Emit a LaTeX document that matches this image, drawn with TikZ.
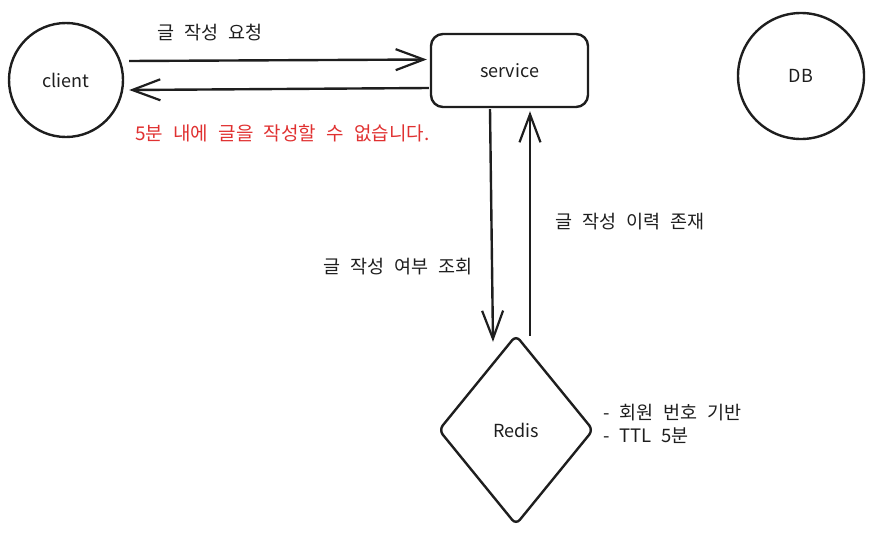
\documentclass[tikz,border=0pt]{standalone}
\usepackage{fontspec}
\setmainfont{Noto Sans CJK KR}[WordSpace=2.4]
\usetikzlibrary{shapes.geometric,arrows.meta}
\definecolor{ink}{HTML}{1E1E1E}
\definecolor{exred}{HTML}{E03131}
\tikzset{
  shp/.style={draw=ink, line width=2.4pt, text=ink, font=\fontsize{18}{20}\selectfont},
  arr/.style={draw=ink, line width=2.4pt, -{Straight Barb[length=28pt,width=21pt,line width=2.2pt]}},
  lbl/.style={text=ink, font=\fontsize{18.5}{23}\selectfont, inner sep=0pt},
}
\begin{document}
\begin{tikzpicture}[x=1pt,y=-1pt]
\useasboundingbox (0,0) rectangle (874,541);
\node[shp, circle, minimum size=114pt] (client) at (66,80) {client};
\node[shp, rectangle, rounded corners=12pt, minimum width=157pt, minimum height=73pt] (service) at (509.5,70.5) {service};
\node[shp, circle, minimum size=126pt] (db) at (801,76) {DB};
\node[shp, diamond, rounded corners=6pt, minimum width=155pt, minimum height=190pt] (redis) at (516,430) {Redis};

\draw[arr] ([shift={(5,-19)}]client.east) -- ([shift={(-3,-11)}]service.west);
\draw[arr] ([shift={(-1,17.5)}]service.west) -- ([shift={(5,10)}]client.east);
\draw[arr] ([shift={(-19.5,1)}]service.south) -- ([shift={(-23,8)}]redis.north);
\draw[arr] ([shift={(14,2)}]redis.north) -- ([shift={(20.5,3)}]service.south);

\node[lbl, anchor=west] (req) at (157,33) {글 작성 요청};
\node[lbl, anchor=west, text=exred, font=\fontsize{19}{23}\selectfont] (err) at (135,133) {5분 내에 글을 작성할 수 없습니다.};
\node[lbl, anchor=east] (query) at (473,267) {글 작성 여부 조회};
\node[lbl, anchor=west] (exist) at (555,222) {글 작성 이력 존재};
\node[lbl, anchor=west, align=left] (note) at (603,423.5) {- 회원 번호 기반\\- TTL 5분};
\end{tikzpicture}
\end{document}
